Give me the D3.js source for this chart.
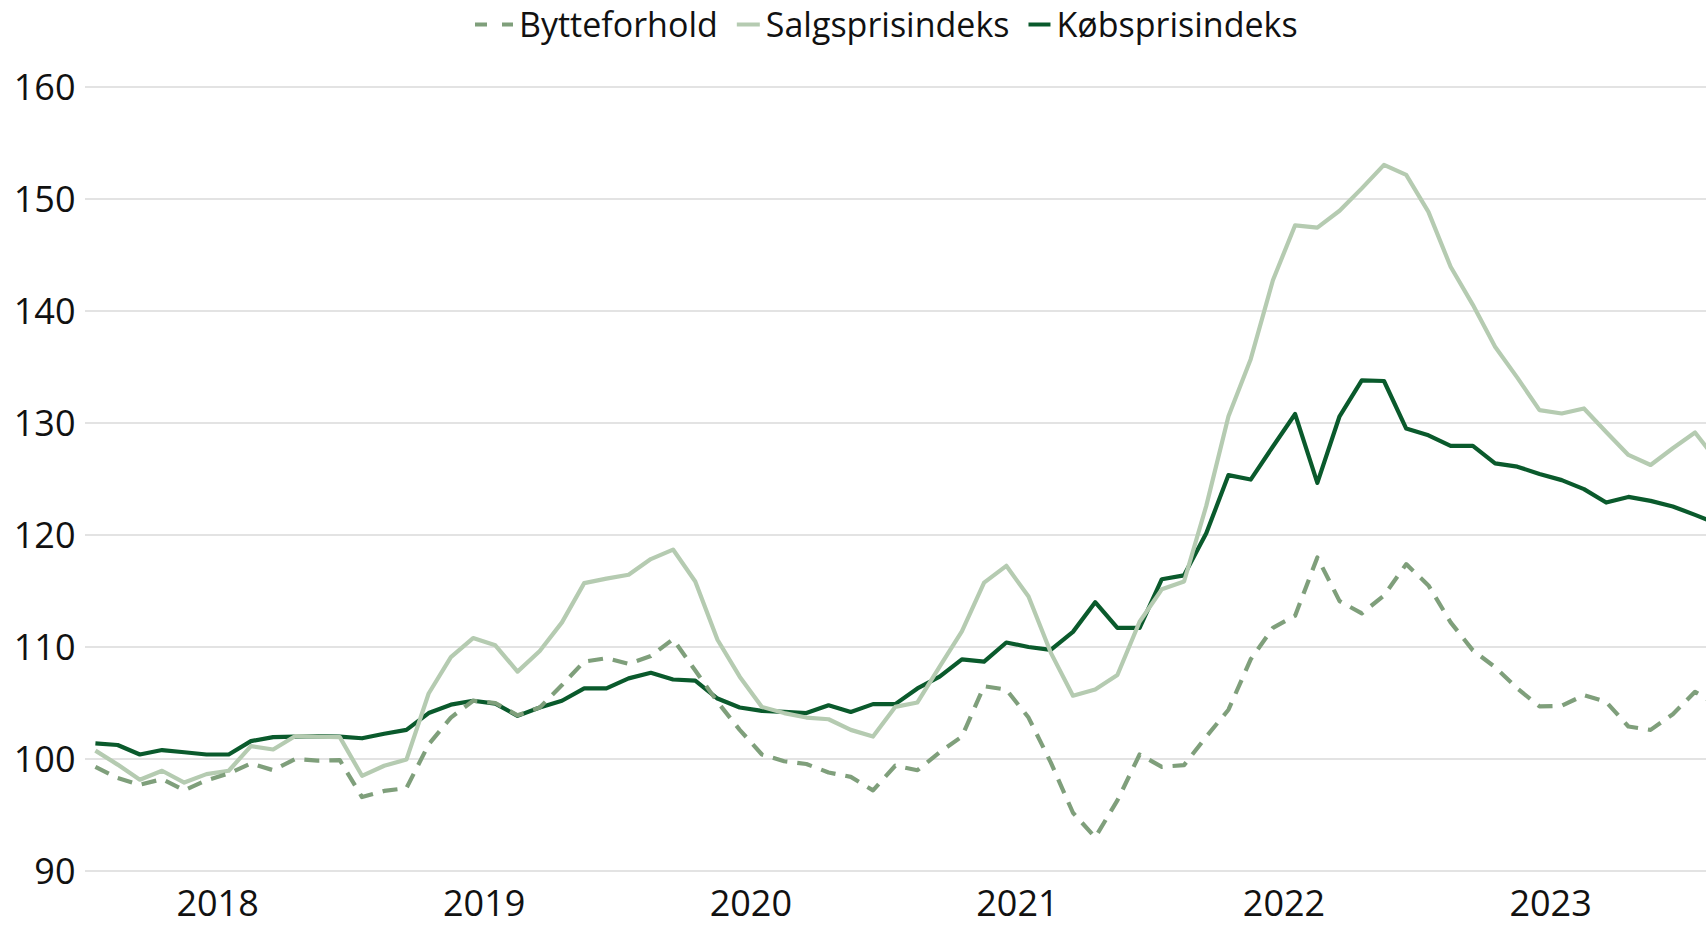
<!DOCTYPE html>
<html>
<head>
<meta charset="utf-8">
<script src="https://cdn.jsdelivr.net/npm/d3@7"></script>
<style>
  html, body { margin: 0; padding: 0; background: #ffffff; overflow: hidden; }
  svg { display: block; font-family: "Open Sans", sans-serif; }
</style>
</head>
<body>
<svg id="chart" width="1706" height="926"></svg>
<script>
// Monthly observations, January 2018 to February 2024
const months = d3.timeMonth.range(new Date(2018, 0, 1), new Date(2024, 2, 1));
const yearLabels = [2018, 2019, 2020, 2021, 2022, 2023];
const yTicks = [90, 100, 110, 120, 130, 140, 150, 160];

const bytteforhold = [
  99.3, 98.3, 97.7, 98.2, 97.2, 98.1, 98.7, 99.6, 99.0, 100.0, 99.85, 99.9,
  96.6, 97.15, 97.4, 101.3, 103.7, 105.2, 105.0, 103.9, 104.6, 106.6, 108.7, 109.0,
  108.5, 109.2, 110.7, 107.9, 105.1, 102.6, 100.4, 99.8, 99.55, 98.8, 98.4, 97.2,
  99.4, 99.0, 100.6, 102.0, 106.5, 106.2, 103.7, 99.7, 95.2, 93.0, 96.3, 100.4,
  99.3, 99.45, 102.0, 104.4, 108.9, 111.7, 112.8, 118.0, 114.1, 113.0, 114.6, 117.4,
  115.5, 112.2, 109.7, 108.2, 106.3, 104.7, 104.75, 105.7, 105.1, 102.9, 102.6, 104.0,
  106.0, 104.8
];

const salgsprisindeks = [
  100.75, 99.5, 98.15, 98.95, 97.9, 98.65, 98.95, 101.15, 100.85, 102.05, 102.0, 101.95,
  98.5, 99.4, 99.95, 105.85, 109.1, 110.8, 110.15, 107.8, 109.65, 112.2, 115.7, 116.1,
  116.45, 117.85, 118.7, 115.85, 110.65, 107.35, 104.65, 104.1, 103.7, 103.55, 102.6, 102.0,
  104.65, 105.05, 108.25, 111.4, 115.75, 117.25, 114.5, 109.5, 105.65, 106.2, 107.5, 112.25,
  115.15, 115.85, 122.6, 130.6, 135.7, 142.75, 147.65, 147.45, 148.95, 150.95, 153.05, 152.15,
  148.85, 143.95, 140.55, 136.8, 134.05, 131.15, 130.85, 131.3, 129.2, 127.15, 126.25, 127.75,
  129.15, 126.6
];

const koebsprisindeks = [
  101.4, 101.25, 100.4, 100.8, 100.6, 100.4, 100.4, 101.6, 101.95, 102.0, 102.05, 102.0,
  101.85, 102.25, 102.6, 104.1, 104.85, 105.2, 104.95, 103.85, 104.6, 105.2, 106.3, 106.3,
  107.2, 107.7, 107.1, 107.0, 105.4, 104.6, 104.3, 104.2, 104.1, 104.8, 104.2, 104.9,
  104.9, 106.3, 107.35, 108.9, 108.7, 110.4, 110.0, 109.75, 111.35, 114.0, 111.7, 111.7,
  116.05, 116.4, 120.15, 125.35, 124.95, 127.9, 130.8, 124.65, 130.6, 133.8, 133.75, 129.5,
  128.9, 127.95, 127.95, 126.4, 126.1, 125.45, 124.9, 124.1, 122.9, 123.4, 123.05, 122.55,
  121.8, 121.0
];

const seriesNames = ["Bytteforhold", "Salgsprisindeks", "Købsprisindeks"];
const seriesColors = ["#7f9f7b", "#b5cbb1", "#0a5a2c"];

const svg = d3.select("#chart");
const W = 1706;

const plotLeft = 84.3;
const step = 22.217;

// one band per month; the plot continues past the right edge of the page
const x = d3.scaleBand()
  .domain(d3.range(months.length))
  .range([plotLeft, plotLeft + step * months.length])
  .padding(0);
const bw = x.bandwidth();
const xc = i => x(i) + bw / 2;

const y = d3.scaleLinear().domain([90, 160]).range([871, 87]);

// horizontal gridlines
svg.append("g")
  .selectAll("line")
  .data(yTicks)
  .join("line")
  .attr("x1", 85).attr("x2", W)
  .attr("y1", d => y(d)).attr("y2", d => y(d))
  .attr("stroke", "#dadada")
  .attr("stroke-width", 1.5);

// y axis labels
const yAxis = d3.axisLeft(y).tickValues(yTicks).tickSize(0).tickPadding(0);
const gy = svg.append("g").attr("transform", "translate(75.5,0)").call(yAxis);
gy.select(".domain").remove();
gy.selectAll("text")
  .attr("font-family", "Open Sans, sans-serif")
  .attr("font-size", 36)
  .attr("fill", "#111")
  .attr("dy", "0.35em");

// year labels, centred over the twelve months of each year
svg.append("g")
  .selectAll("text")
  .data(yearLabels)
  .join("text")
  .attr("x", d => x((d - 2018) * 12) + 6 * bw)
  .attr("y", 916)
  .attr("text-anchor", "middle")
  .attr("font-size", 36)
  .attr("fill", "#111")
  .text(d => d);

const line = d3.line()
  .x((d, i) => xc(i))
  .y(d => y(d));

const lines = svg.append("g").attr("fill", "none").attr("stroke-linejoin", "round");

lines.append("path")
  .datum(koebsprisindeks)
  .attr("d", line)
  .attr("stroke", seriesColors[2])
  .attr("stroke-width", 4.2);

lines.append("path")
  .datum(salgsprisindeks)
  .attr("d", line)
  .attr("stroke", seriesColors[1])
  .attr("stroke-width", 4.2);

lines.append("path")
  .datum(bytteforhold)
  .attr("d", line)
  .attr("stroke", seriesColors[0])
  .attr("stroke-width", 4.2)
  .attr("stroke-dasharray", "15 10");

// legend
const legend = svg.append("g").attr("font-size", 34).attr("fill", "#111");
const legendY = 24.5;
let lx = 475;
const symbolLen = [38, 23, 22];
seriesNames.forEach((name, k) => {
  const sym = legend.append("line")
    .attr("x1", lx).attr("x2", lx + symbolLen[k])
    .attr("y1", legendY).attr("y2", legendY)
    .attr("stroke", seriesColors[k])
    .attr("stroke-width", 4);
  if (k === 0) sym.attr("stroke-dasharray", "12 15");
  lx += symbolLen[k] + 6;
  const t = legend.append("text")
    .attr("x", lx)
    .attr("y", 36.5)
    .text(name);
  lx += t.node().getComputedTextLength() + 19;
});
</script>
</body>
</html>
